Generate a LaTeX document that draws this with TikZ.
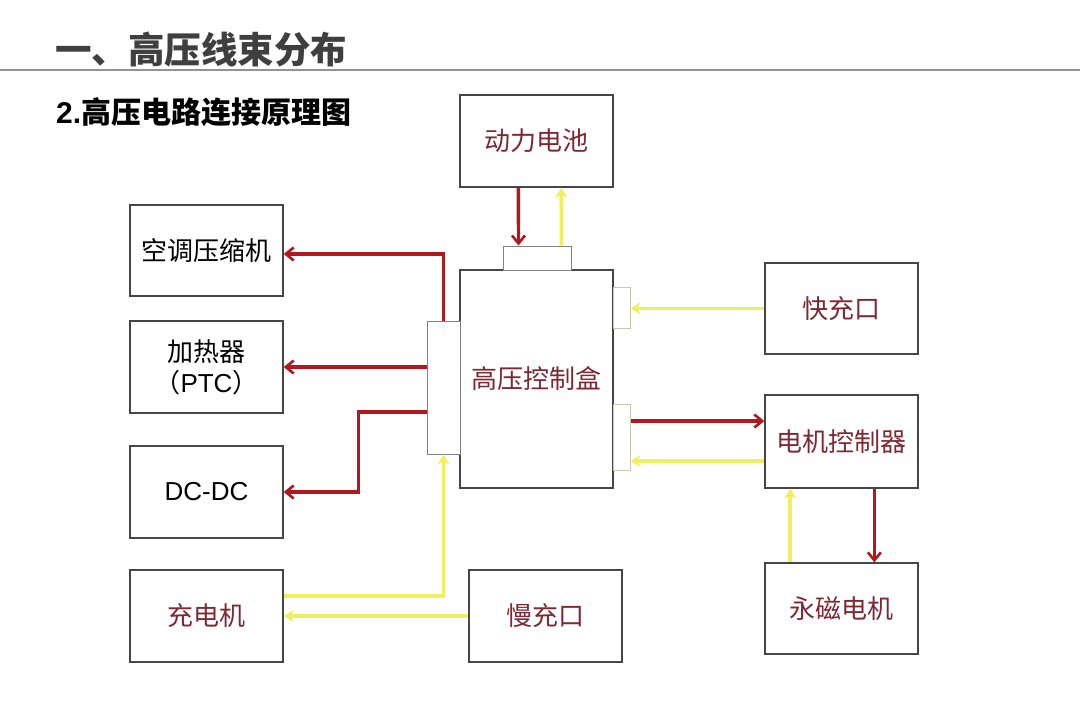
\documentclass[tikz,border=0pt]{standalone}
\usepackage{fontspec}
\setmainfont{Noto Sans CJK SC}
\newfontfamily\lat{Liberation Sans}
\usetikzlibrary{arrows.meta}
\definecolor{boxgray}{RGB}{70,70,70}
\definecolor{conngray}{RGB}{130,130,130}
\definecolor{connlight}{RGB}{200,200,170}
\definecolor{wirered}{RGB}{178,24,32}
\definecolor{wireyel}{RGB}{240,240,95}
\definecolor{txtred}{RGB}{125,40,50}
\definecolor{titlegray}{RGB}{63,63,63}
\definecolor{rulegray}{RGB}{140,150,150}
\begin{document}
\begin{tikzpicture}[x=1pt,y=-1pt,
  box/.style={draw=boxgray, line width=1.3pt, fill=white, inner sep=0pt,
    minimum width=153pt, minimum height=92pt, align=center,
    font=\fontsize{26}{31}\selectfont},
  redtxt/.style={text=txtred},
  conn/.style={draw=conngray, line width=1pt, fill=white, inner sep=0pt},
  connl/.style={draw=connlight, line width=1pt, fill=white, inner sep=0pt},
  redwire/.style={draw=wirered, line width=3.4pt, -{Straight Barb[length=8pt,width=13pt,line width=2.6pt]}},
  yelwire/.style={draw=wireyel, line width=3.8pt, -{Stealth[length=10pt,width=12pt]}}
]
\useasboundingbox (0,0) rectangle (1080,716);
\fill[white] (0,0) rectangle (1080,716);

% titles
\node[anchor=west, inner sep=0pt, text=titlegray, font=\fontsize{36.5}{40}\selectfont\bfseries] (title) at (55,50) {一、高压线束分布};
\draw[rulegray, line width=1.5pt] (0,70) -- (1080,70);
\node[anchor=west, inner sep=0pt, text=black, font=\fontsize{30}{34}\selectfont\bfseries] (sub) at (56,112) {{\lat 2.}高压电路连接原理图};

% main boxes
\node[box, redtxt] (bat) at (536.5,141) {动力电池};
\node[box, redtxt, minimum height=218pt] (hv) at (536.5,379) {高压控制盒};
\node[conn, minimum width=68pt, minimum height=24pt] (topc) at (537,258) {};
\node[conn, minimum width=33pt, minimum height=133pt] (lc) at (443.5,387.5) {};
\node[connl, minimum width=17pt, minimum height=41pt] (rc1) at (621.5,307.5) {};
\node[connl, minimum width=17pt, minimum height=66pt] (rc2) at (621.5,437) {};

\node[box, minimum height=91pt] (ac) at (206.5,250.5) {空调压缩机};
\node[box] (ptc) at (206.5,367) {加热器\\{（\lat PTC\rmfamily）}};
\node[box] (dc) at (206.5,492) {\lat DC-DC};
\node[box, redtxt] (chg) at (206.5,616) {充电机};
\node[box, redtxt] (slow) at (545.5,616) {慢充口};
\node[box, redtxt, minimum height=91pt] (fast) at (841.5,308.5) {快充口};
\node[box, redtxt, minimum height=93pt] (mc) at (841.5,441.5) {电机控制器};
\node[box, redtxt, minimum height=91pt] (pm) at (841.5,608.5) {永磁电机};

% battery <-> top connector
\draw[redwire] ([xshift=59pt]bat.south west) -- ([xshift=16pt]topc.north west);
\draw[yelwire] ([xshift=59pt]topc.north west) -- ([xshift=102pt]bat.south west);

% left outputs
\draw[redwire] (lc.north) |- ([yshift=-3.5pt]ac.east);
\draw[redwire] (lc.west |- ptc.east) -- (ptc.east);
\draw[redwire] ([yshift=-24.5pt]lc.west) -| ([xshift=75pt]dc.east) -- (dc.east);

% charger
\draw[yelwire] ([yshift=20pt]chg.east) -| (lc.south);
\draw[yelwire] (slow.west) -- (chg.east);

% right side
\draw[yelwire] (fast.west) -- (fast.west -| rc1.east);
\draw[redwire] ([yshift=16pt]rc2.east) -- ([yshift=16pt]rc2.east -| mc.west);
\draw[yelwire] ([yshift=-19.5pt]mc.west) -- ([yshift=-19.5pt]mc.west -| rc2.east);

% motor
\draw[yelwire] ([xshift=26pt]pm.north west) -- ([xshift=26pt]mc.south west);
\draw[redwire] ([xshift=110pt]mc.south west) -- ([xshift=110pt]pm.north west);
\end{tikzpicture}
\end{document}
